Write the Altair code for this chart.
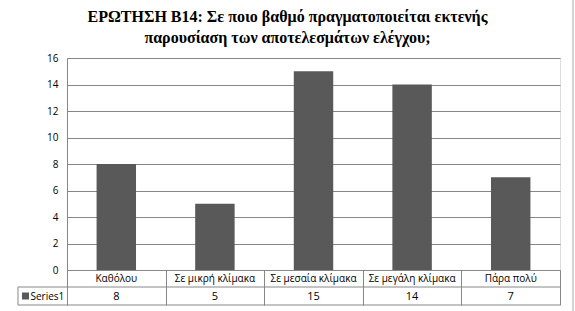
import altair as alt
import pandas as pd

title_lines = ["ΕΡΩΤΗΣΗ Β14: Σε ποιο βαθμό πραγματοποιείται εκτενής",
               "παρουσίαση των αποτελεσμάτων ελέγχου;"]
categories = ["Καθόλου", "Σε μικρή κλίμακα", "Σε μεσαία κλίμακα", "Σε μεγάλη κλίμακα", "Πάρα πολύ"]
values = [8, 5, 15, 14, 7]
series_name = ["Series1"]
y_ticks = [0, 2, 4, 6, 8, 10, 12, 14, 16]

df = pd.DataFrame({"cat": categories, "val": values})
leg = pd.DataFrame({"s": series_name})
t1 = pd.DataFrame({"t": [title_lines[0]]})
t2 = pd.DataFrame({"t": [title_lines[1]]})

W, H = 493, 212
ROW1, ROW2 = 17, 35
LEGW = 49
BAR = "#595959"
LINE = "#878787"
FONT = "Open Sans"

xenc = alt.X("cat:N", sort=categories,
             scale=alt.Scale(paddingInner=0, paddingOuter=0),
             axis=alt.Axis(title=None, labels=False, domainColor=LINE, tickColor=LINE,
                           tickSize=ROW2, tickBand="extent", grid=False))

bars = alt.Chart(df).mark_bar(color=BAR, width=alt.RelativeBandSize(0.4)).encode(
    x=xenc,
    y=alt.Y("val:Q", scale=alt.Scale(domain=[0, 16], nice=False),
            axis=alt.Axis(title=None, values=y_ticks, ticks=False, domainColor=LINE,
                          gridColor=LINE, labelFont=FONT, labelFontSize=10,
                          labelColor="#000000", labelPadding=9)),
)

cat_text = alt.Chart(df).mark_text(font=FONT, fontSize=10, color="#000000", baseline="middle").encode(
    x=alt.X("cat:N", sort=categories), y=alt.value(H + ROW1 / 2 + 0.5), text="cat:N")

val_text = alt.Chart(df).mark_text(font=FONT, fontSize=11, color="#000000", baseline="middle").encode(
    x=alt.X("cat:N", sort=categories), y=alt.value(H + (ROW1 + ROW2) / 2 + 0.5), text="val:Q")

hline1 = alt.Chart(leg).mark_rule(color=LINE, strokeWidth=1).encode(
    x=alt.value(-LEGW), x2=alt.value(W), y=alt.value(H + ROW1))
hline2 = alt.Chart(leg).mark_rule(color=LINE, strokeWidth=1).encode(
    x=alt.value(-LEGW), x2=alt.value(W), y=alt.value(H + ROW2))
vline = alt.Chart(leg).mark_rule(color=LINE, strokeWidth=1).encode(
    x=alt.value(-LEGW), y=alt.value(H + ROW1), y2=alt.value(H + ROW2))
border = alt.Chart(leg).mark_rule(color="#a6a6a6", strokeWidth=1).encode(
    x=alt.value(506), y=alt.value(-58), y2=alt.value(253))

leg_sq = alt.Chart(leg).mark_square(color=BAR, size=49, opacity=1).encode(
    x=alt.value(-LEGW + 7.5), y=alt.value(H + (ROW1 + ROW2) / 2))
leg_txt = alt.Chart(leg).mark_text(font=FONT, fontSize=10, color="#000000", align="left",
                                   baseline="middle").encode(
    x=alt.value(-LEGW + 12.5), y=alt.value(H + (ROW1 + ROW2) / 2 + 0.5), text="s:N")

title_kw = dict(font="Liberation Serif", fontSize=16, fontWeight="bold", color="#000000",
                align="center", baseline="middle")
title1 = alt.Chart(t1).mark_text(**title_kw).encode(x=alt.value(220.5), y=alt.value(-41), text="t:N")
title2 = alt.Chart(t2).mark_text(**title_kw).encode(x=alt.value(220.5), y=alt.value(-20), text="t:N")

chart = alt.layer(bars, cat_text, val_text, hline1, hline2, vline, border, leg_sq, leg_txt,
                  title1, title2).properties(
    width=W, height=H,
    autosize=alt.AutoSizeParams(type="none"),
    padding={"left": 67, "top": 58, "right": 15, "bottom": 41},
).configure_view(stroke=None).configure(background="#ffffff")

chart.save("out.html", embed_options={"renderer": "svg", "actions": False})
